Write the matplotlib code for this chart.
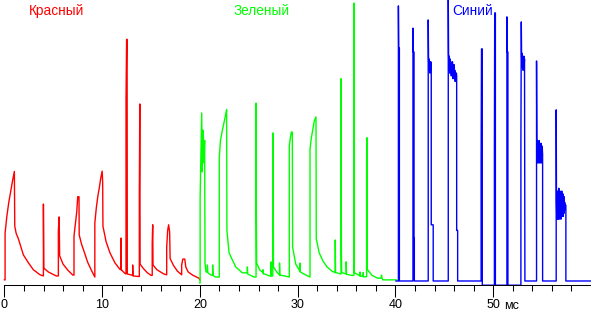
import numpy as np
from matplotlib import pyplot as plt

# time (ms) / level (% of full scale)
red_t = [0.0, 0.07, 0.07, 0.25, 0.45, 0.65, 0.85, 1.02, 1.06, 1.2, 1.43, 1.7, 1.94, 2.45, 2.96, 3.65, 3.99,
         3.99, 4.03, 4.5, 5.3, 5.52, 5.52, 5.6, 5.65, 6.0, 6.5, 7.0, 7.12,
         7.12, 7.25, 7.4, 7.5, 7.63, 7.65, 7.9, 8.2, 8.5, 8.9, 9.25,
         9.25, 9.4, 9.55, 9.7, 9.85, 10.0, 10.05, 10.08, 10.4, 10.8, 11.3, 11.8, 11.93, 11.93, 11.96, 12.3, 12.44,
         12.44, 12.5, 12.55, 12.57, 12.9, 13.12, 13.12, 13.15, 13.7, 13.8,
         13.8, 13.85, 13.88, 14.2, 14.6, 15.0, 15.12, 15.12, 15.17, 15.2, 15.6, 16.3, 16.6,
         16.6, 16.7, 16.8, 16.9, 16.95, 17.3, 17.7, 18.13, 18.13, 18.25, 18.45, 18.55, 18.8, 19.3, 19.9, 20.0]
red_v = [0.4, 0.4, 17, 23, 28, 32, 36, 39, 19.5, 17, 15, 12, 9.3, 6.5, 4, 2.2, 1.8,
         27.4, 4.6, 3.2, 1.8, 1.8, 18, 22.8, 9, 6, 3.8, 2.1, 2.1,
         16, 20, 24.6, 30, 30, 16.4, 13, 10, 6.8, 3.8, 1.4,
         20.6, 26, 30, 33, 36.5, 39.1, 35.2, 19.5, 14, 10, 6.5, 4.2, 4.0, 15.3, 4.0, 2.8, 2.5,
         65, 86, 86, 2.5, 2.2, 2.0, 5.7, 1.8, 1.6, 1.6,
         30, 63, 6, 4.5, 3, 2, 2, 13.5, 20, 5.7, 4, 2.5, 2.2,
         12, 18, 20, 17.4, 8, 5.5, 3.5, 2.2, 5.7, 7.8, 7.8, 5, 3.2, 2, 1, 0.4]

green_t = [20.0, 20.02, 20.02, 20.18, 20.24, 20.3, 20.36, 20.42, 20.48, 20.52, 20.62, 20.76, 20.76, 20.8,
           21.13, 21.3, 21.3, 21.34, 21.58, 21.98,
           21.98, 22.1, 22.3, 22.5, 22.65, 22.73, 22.76, 22.98, 23.66, 24.34, 24.85, 24.85, 24.88, 25.53, 25.74,
           25.74, 25.77, 25.8, 26.1, 26.45, 26.45, 26.48, 26.6, 27.1, 27.27, 27.27, 27.3, 27.45,
           27.45, 27.48, 27.52, 27.9, 28.14, 28.14, 28.17, 28.4, 29.14,
           29.14, 29.25, 29.35, 29.45, 29.48, 29.8, 30.23, 30.23, 30.26, 30.9, 31.26,
           31.26, 31.4, 31.55, 31.7, 31.87, 31.9, 32.2, 32.6, 33.0, 33.5, 33.84, 33.84, 33.87, 34.43,
           34.43, 34.47, 34.5, 34.96, 34.96, 34.99, 35.5, 35.75, 35.75, 35.78, 36.37, 36.37, 36.4, 36.7, 36.7,
           36.73, 37.05, 37.05, 37.08, 37.1, 37.15, 37.6, 38.2, 38.5, 38.58, 38.62, 38.7, 40.1]
green_v = [-0.7, -0.7, 29.5, 59.8, 38.8, 53.7, 51, 42, 50, 6.4, 3.2, 3.2, 5.7, 3,
           2.1, 2.1, 5.7, 2, 1.4, 1.4,
           44, 50, 53.7, 57, 59.5, 61, 18, 10, 5, 2.9, 2.9, 5, 2.5, 1.4, 1.4,
           63.3, 23.5, 6.4, 4, 3, 4, 2.5, 2.5, 1.8, 1.8, 6.8, 1.8, 1.8,
           48, 52.7, 5, 3, 2.2, 6.4, 2, 2, 1.4,
           48, 51, 53, 53, 12, 6, 3.5, 6.4, 3.2, 2, 1.4,
           47, 51, 54, 57, 58.4, 15, 10, 7, 5, 3.5, 3, 14.6, 3, 2.5,
           72, 10, 3, 2.5, 6.8, 2.4, 2, 2, 98.9, 3, 1.8, 3.2, 1.8, 1.6, 3,
           1.5, 1.5, 42, 51, 4, 4, 2, 1, 1, 2.1, 1, 0.4, 0.4]

# blue: rising/falling edges and plateau levels
blue_t = [40.05, 40.3, 40.3, 40.33, 40.4, 40.4, 41.79,
          41.79, 41.82, 41.9, 41.9, 41.93, 41.93, 43.35,
          43.35, 43.38, 43.41, 43.44, 43.47, 43.5, 43.53, 43.56, 43.59, 43.62, 43.66, 43.66, 43.86, 43.86, 45.4,
          45.4, 45.43, 45.47, 45.51, 45.55, 45.59, 45.63, 45.67, 45.71, 45.75, 45.79, 45.83, 45.87, 45.91, 45.95,
          45.99, 46.03, 46.07, 46.11, 46.15, 46.19, 46.23, 46.26, 46.26, 46.36, 46.36, 48.76,
          48.76, 48.8, 48.88, 48.88, 50.12,
          50.12, 50.15, 50.22, 50.22, 51.4,
          51.4, 51.43, 51.5, 51.5, 52.83,
          52.83, 52.87, 52.9, 52.93, 52.96, 52.99, 53.02, 53.05, 53.08, 53.11, 53.14, 53.17, 53.2, 53.24, 53.24, 54.43,
          54.43, 54.46, 54.5, 54.53, 54.56, 54.59, 54.62, 54.65, 54.68, 54.71, 54.74, 54.77, 54.8, 54.83, 54.86,
          54.89, 54.92, 54.95, 54.98, 55.01, 55.05, 55.05, 56.44,
          56.44, 56.47, 56.5, 56.53, 56.56, 56.59, 56.62, 56.65, 56.68, 56.71, 56.74, 56.77, 56.8, 56.83, 56.86,
          56.89, 56.92, 56.95, 56.98, 57.01, 57.04, 57.07, 57.1, 57.13, 57.16, 57.19, 57.22, 57.25, 57.28, 57.31,
          57.34, 57.37, 57.43, 57.43, 60.0]
blue_v = [0, 0, 97.9, 82.9, 82.9, 0, 0,
          90, 81.5, 81.5, 15.3, 15.3, 0, 0,
          92.9, 80, 76, 79, 75, 78, 74, 77, 75, 78, 76, 20, 20, 0, 0,
          100, 81, 76, 80, 74, 79, 75, 78, 73, 77, 74, 78, 72, 76, 73, 77,
          72, 75, 71, 74, 72, 74, 73, 18, 18, 0, 0,
          41.3, 82.6, 82.6, -1.5, -1.5,
          47, 95.4, 95.4, -1.5, -1.5,
          94, 81.5, 81.5, -1.5, -1.5,
          48, 92.2, 80, 76, 81, 77, 80, 75, 79, 76, 80, 77, 79, 0, 0, 0,
          78.3, 48, 43, 50, 42, 49, 43, 48, 42, 50, 43, 49, 42, 48, 44,
          49, 42, 47, 44, 48, 45, 0, 0,
          60.9, 28, 22, 31, 23, 32, 22, 30, 24, 33, 22, 31, 23, 32, 24,
          30, 22, 31, 25, 32, 23, 30, 24, 31, 23, 29, 24, 30, 25, 28,
          26, 27, 27, 0, 0]

labels = ["Красный", "Зеленый", "Синий"]
label_t = [5.35, 26.35, 47.87]
colors = ["#ff0000", "#00ff00", "#0000ff"]

major_ticks = [0, 10, 20, 30, 40, 50]
tick_labels = ["0", "10", "20", "30", "40", "50"]
minor_ticks = [t for t in range(0, 60, 2) if t % 10]

plt.rcParams['font.family'] = ['Liberation Sans', 'DejaVu Sans']

fig = plt.figure(figsize=(5.91, 3.11), dpi=100)
ax = fig.add_axes([0, 0, 1, 1])
ax.set_xlim(-0.45, 60.0)
ax.set_ylim(-10.68, 100)

for t, v, c in [(red_t, red_v, colors[0]), (green_t, green_v, colors[1]), (blue_t, blue_v, colors[2])]:
    ax.plot(t, v, color=c, lw=1.0)

for name, t, c in zip(labels, label_t, colors):
    ax.text(t, 96.0, name, color=c, fontsize=9.8, ha='center', va='center')

# axis line at the bottom
for s in ['left', 'right', 'top']:
    ax.spines[s].set_visible(False)
ax.spines['bottom'].set_position(('data', -1.42))
ax.spines['bottom'].set_bounds(0, 60)
ax.spines['bottom'].set_linewidth(0.75)
ax.set_yticks([])
ax.set_xticks(major_ticks)
ax.set_xticklabels(tick_labels)
ax.set_xticks(minor_ticks, minor=True)
ax.tick_params(axis='x', which='major', direction='out', length=8.4, width=0.75, pad=2.0, labelsize=9)
ax.tick_params(axis='x', which='minor', direction='out', length=4.1, width=0.75)
ax.text(51.15, -6.6, "мс", fontsize=9, ha='left', va='top')

fig.savefig("out.png", dpi=100)
